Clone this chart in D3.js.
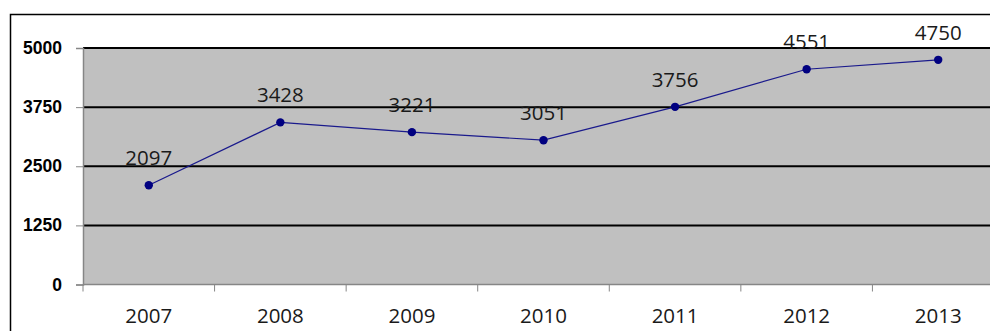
<!DOCTYPE html>
<html>
<head>
<meta charset="utf-8">
<script src="https://cdn.jsdelivr.net/npm/d3@7"></script>
<style>
  html, body { margin: 0; padding: 0; background: #fff; }
  svg { display: block; }
</style>
</head>
<body>
<svg id="chart" width="990" height="331"></svg>
<script>
// Yearly values
const years = ["2007", "2008", "2009", "2010", "2011", "2012", "2013"];
const values = [2097, 3428, 3221, 3051, 3756, 4551, 4750];
const yTicks = [0, 1250, 2500, 3750, 5000];

(function () {
  const svg = d3.select("#chart");

  // Plot area bounds
  const plotL = 83, plotR = 1004, plotT = 48, plotB = 284.5;

  const x = d3.scaleBand().domain(years).range([plotL, plotR]).padding(0);
  const y = d3.scaleLinear().domain([0, 5000]).range([plotB, plotT]);

  // Outer chart frame
  svg.append("rect")
    .attr("x", 10.5).attr("y", 14.5)
    .attr("width", 1010).attr("height", 330)
    .attr("fill", "#fff").attr("stroke", "#000").attr("stroke-width", 1.5);

  // Plot background
  svg.append("rect")
    .attr("x", plotL).attr("y", plotT)
    .attr("width", plotR - plotL).attr("height", plotB - plotT)
    .attr("fill", "#c0c0c0");

  // Horizontal gridlines
  svg.append("g")
    .selectAll("line")
    .data(yTicks.filter(d => d > 0))
    .join("line")
    .attr("x1", plotL).attr("x2", plotR)
    .attr("y1", d => y(d)).attr("y2", d => y(d))
    .attr("stroke", "#000").attr("stroke-width", 2);

  // Y axis
  const yAxis = svg.append("g")
    .attr("transform", `translate(${plotL},0)`)
    .call(d3.axisLeft(y).tickValues(yTicks).tickSize(7).tickPadding(14).tickFormat(d3.format("d")));
  yAxis.select(".domain").attr("stroke", "#868686").attr("stroke-width", 1.5);
  yAxis.selectAll(".tick line").attr("stroke", "#868686");
  yAxis.selectAll(".tick text")
    .attr("font-family", "'Liberation Sans', Arial, sans-serif")
    .attr("font-weight", "bold")
    .attr("font-size", 17.5)
    .attr("fill", "#000");

  // X axis with tick marks at category boundaries
  const xAxisG = svg.append("g").attr("transform", `translate(0,${plotB})`);
  xAxisG.append("line")
    .attr("x1", plotL).attr("x2", plotR)
    .attr("stroke", "#868686").attr("stroke-width", 1.5);
  const bounds = years.map(d => x(d)).concat([x(years[years.length - 1]) + x.bandwidth()]);
  xAxisG.selectAll("line.tk")
    .data(bounds)
    .join("line")
    .attr("class", "tk")
    .attr("x1", d => d).attr("x2", d => d)
    .attr("y1", 0).attr("y2", 7)
    .attr("stroke", "#868686");
  xAxisG.selectAll("text")
    .data(years)
    .join("text")
    .attr("x", d => x(d) + x.bandwidth() / 2)
    .attr("y", 38.5)
    .attr("text-anchor", "middle")
    .attr("font-family", "'Open Sans', sans-serif")
    .attr("font-size", 20.5)
    .attr("fill", "#1a1a1a")
    .text(d => d);

  const cx = (d, i) => x(years[i]) + x.bandwidth() / 2;

  // Series line
  svg.append("path")
    .datum(values)
    .attr("fill", "none")
    .attr("stroke", "#1a1a8c")
    .attr("stroke-width", 1.2)
    .attr("d", d3.line().x((d, i) => cx(d, i)).y(d => y(d)));

  // Markers
  svg.append("g")
    .selectAll("circle")
    .data(values)
    .join("circle")
    .attr("cx", cx)
    .attr("cy", d => y(d))
    .attr("r", 4.2)
    .attr("fill", "#000080");

  // Value labels
  svg.append("g")
    .selectAll("text")
    .data(values)
    .join("text")
    .attr("x", cx)
    .attr("y", d => y(d) - 20)
    .attr("text-anchor", "middle")
    .attr("font-family", "'Open Sans', sans-serif")
    .attr("font-size", 20.5)
    .attr("fill", "#1a1a1a")
    .text(d => d);
})();
</script>
</body>
</html>
